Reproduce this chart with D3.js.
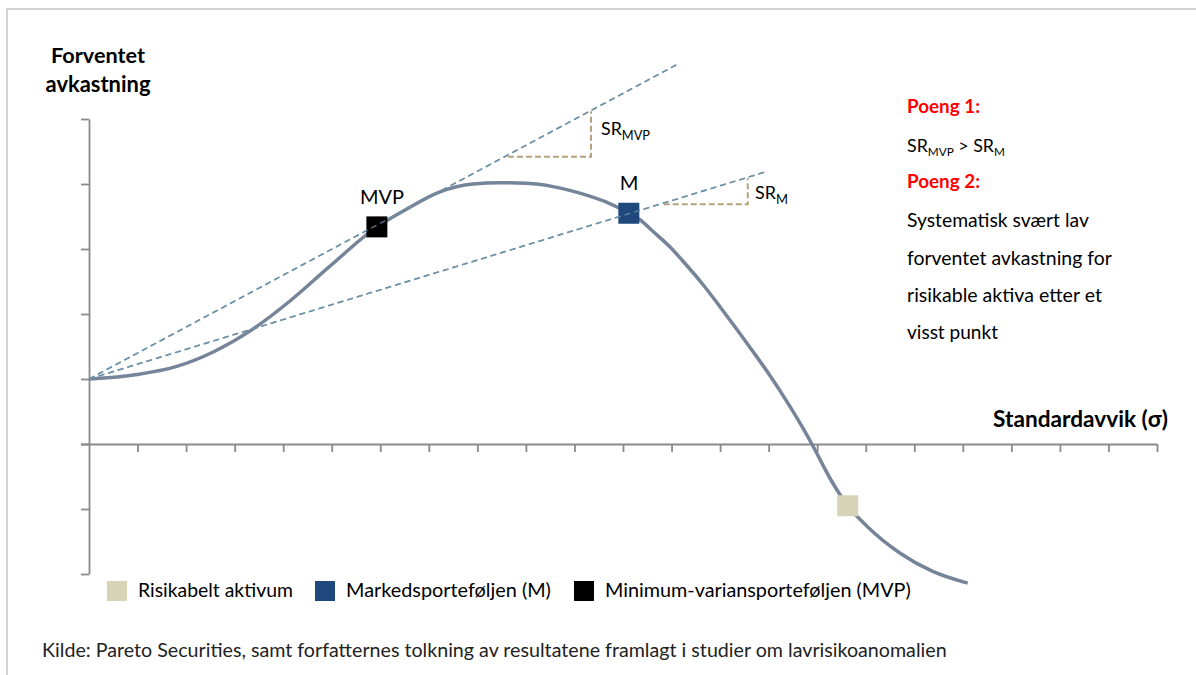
<!DOCTYPE html>
<html><head><meta charset="utf-8">
<script src="https://cdn.jsdelivr.net/npm/d3@7"></script>
<style>
html,body{margin:0;padding:0;background:#fff;}
svg{display:block;font-family:Lato,"Open Sans",sans-serif;}
</style></head>
<body>
<svg id="c" width="1196" height="675"></svg>
<script>
// ---------- data ----------
const curveX = [0, 1.0, 1.79, 2.57, 3.36, 4.14, 4.94, 5.93, 6.51, 7.23, 7.91, 8.47, 9.02, 9.56, 10.11, 10.66, 11.12, 11.35, 11.62, 11.97, 12.31, 12.65, 12.99, 13.34, 13.68, 14.03, 14.37, 14.71, 14.89, 15.32, 15.63, 16.02, 16.71, 17.38, 18.10];
const curveY = [1.0, 1.07, 1.19, 1.42, 1.76, 2.20, 2.72, 3.34, 3.60, 3.88, 4.00, 4.02, 4.01, 3.96, 3.86, 3.72, 3.55, 3.45, 3.27, 3.03, 2.75, 2.45, 2.12, 1.77, 1.42, 1.05, 0.66, 0.24, 0.0, -0.60, -0.95, -1.26, -1.68, -1.96, -2.14];

const markerNames = ["Risikabelt aktivum", "Markedsporteføljen (M)", "Minimum-variansporteføljen (MVP)"];
const markerX = [15.63, 11.12, 5.93];
const markerY = [-0.95, 3.55, 3.34];
const markerLabels = ["", "M", "MVP"];

const tangentX0 = [0, 0];
const tangentY0 = [1, 1];
const tangentX1 = [12.16, 13.95];
const tangentY1 = [5.857, 4.19];

// SR triangles: horizontal leg start x, corner x, base y, top y
const srStartX = [8.63, 11.84];
const srCornerX = [10.34, 13.57];
const srBaseY = [4.42, 3.69];
const srTopY = [5.12, 4.09];
const srSub = ["MVP", "M"];

const xTicks = d3.range(1, 23);
const yTicks = d3.range(-2, 6);

const markerColors = ["#d6d3b6", "#1f497d", "#000000"];

// ---------- scales ----------
const svg = d3.select("#c");
const x = d3.scaleLinear().domain([0, 22]).range([89, 1157]);
const y = d3.scaleLinear().domain([-2, 5]).range([574, 119]);

// frame
svg.append("rect").attr("x", 7).attr("y", 9).attr("width", 1230).attr("height", 700)
  .attr("fill", "none").attr("stroke", "#d4d4d4").attr("stroke-width", 2);

function fit(sel, w) {
  const fs = parseFloat(sel.attr("font-size"));
  const l = sel.node().getComputedTextLength();
  sel.attr("font-size", (fs * w / l).toFixed(2));
  return sel;
}

// axes
const axisColor = "#8a8a8a";
const yAxis = svg.append("g").attr("transform", `translate(${x(0)},0)`)
  .call(d3.axisLeft(y).tickValues(yTicks).tickSize(8).tickSizeOuter(0).tickFormat(""));
const xAxis = svg.append("g").attr("transform", `translate(0,${y(0)})`)
  .call(d3.axisBottom(x).tickValues(xTicks).tickSize(8).tickSizeOuter(0).tickFormat(""));
[xAxis, yAxis].forEach(a => {
  a.selectAll("path,line").attr("stroke", axisColor).attr("stroke-width", 1.8);
});
xAxis.select("path.domain").attr("d", `M${x(0)-8},0.5H${x(22)}`);

// tangent lines
function tangents(w, op) {
  tangentX0.forEach((d, i) => {
    svg.append("line")
      .attr("x1", x(tangentX0[i])).attr("y1", y(tangentY0[i]))
      .attr("x2", x(tangentX1[i])).attr("y2", y(tangentY1[i]))
      .attr("stroke", "#6e92a6").attr("stroke-width", w).attr("stroke-dasharray", "6,4").attr("opacity", op);
  });
}
tangents(1.6, 1);

// SR triangles
srStartX.forEach((d, i) => {
  svg.append("path")
    .attr("d", `M${x(srStartX[i])},${y(srBaseY[i])}H${x(srCornerX[i])}V${y(srTopY[i])}`)
    .attr("fill", "none").attr("stroke", "#b4a27c").attr("stroke-width", 2).attr("stroke-dasharray", "6,3");
});

// curve
const line = d3.line().x(d => x(d[0])).y(d => y(d[1])).curve(d3.curveMonotoneX);
svg.append("path").datum(curveX.map((v, i) => [v, curveY[i]]))
  .attr("d", line).attr("fill", "none").attr("stroke", "#76849a").attr("stroke-width", 3.5);

// markers
const ms = 21;
markerX.forEach((d, i) => {
  svg.append("rect")
    .attr("x", x(markerX[i]) - ms / 2).attr("y", y(markerY[i]) - ms / 2)
    .attr("width", ms).attr("height", ms).attr("fill", markerColors[i]);
});
tangents(1.4, 0.8);

// marker labels
const lblPos = [null, [629, 190, 18.7], [382, 204, 44]];
markerLabels.forEach((t, i) => {
  if (!t) return;
  const s = svg.append("text").attr("x", lblPos[i][0]).attr("y", lblPos[i][1])
    .attr("text-anchor", "middle").attr("font-size", 18).attr("fill", "#000").text(t);
  fit(s, lblPos[i][2]);
});

// SR labels
const srLbl = [[601, 135, 49], [755, 199, 33]];
srSub.forEach((s, i) => {
  const t = svg.append("text").attr("x", srLbl[i][0]).attr("y", srLbl[i][1]).attr("font-size", 16).attr("fill", "#000");
  t.append("tspan").text("SR");
  t.append("tspan").attr("dy", 5).attr("font-size", "0.72em").text(s);
  fit(t, srLbl[i][2]);
});

// axis titles
fit(svg.append("text").attr("x", 98).attr("y", 63).attr("text-anchor", "middle")
  .attr("font-size", 18).attr("font-weight", "bold").attr("fill", "#000").text("Forventet"), 94);
fit(svg.append("text").attr("x", 98).attr("y", 92).attr("text-anchor", "middle")
  .attr("font-size", 18).attr("font-weight", "bold").attr("fill", "#000").text("avkastning"), 105);
fit(svg.append("text").attr("x", 1168).attr("y", 427).attr("text-anchor", "end")
  .attr("font-size", 18).attr("font-weight", "bold").attr("fill", "#000").text("Standardavvik (σ)"), 175);

// right notes
const notes = [
  {t: "Poeng 1:", y: 113, w: 73, red: true},
  {sr: true, y: 151.5, w: 98},
  {t: "Poeng 2:", y: 188, w: 73, red: true},
  {t: "Systematisk svært lav", y: 226.5, w: 182},
  {t: "forventet avkastning for", y: 264.5, w: 205},
  {t: "risikable aktiva etter et", y: 301.5, w: 195},
  {t: "visst punkt", y: 338.5, w: 91}
];
notes.forEach(n => {
  const t = svg.append("text").attr("x", 907).attr("y", n.y).attr("font-size", 18)
    .attr("fill", n.red ? "#ff0000" : "#000").attr("font-weight", n.red ? "bold" : "normal");
  if (n.sr) {
    t.append("tspan").text("SR");
    t.append("tspan").attr("dy", 4).attr("font-size", "0.66em").text("MVP");
    t.append("tspan").attr("dy", -4).text(" > SR");
    t.append("tspan").attr("dy", 4).attr("font-size", "0.66em").text("M");
  } else t.text(n.t);
  fit(t, n.w);
});

// legend
const legX = [107, 315, 574];
const legW = [155, 205, 306];
markerNames.forEach((nm, i) => {
  svg.append("rect").attr("x", legX[i]).attr("y", 581).attr("width", 20).attr("height", 20).attr("fill", markerColors[i]);
  fit(svg.append("text").attr("x", legX[i] + 31).attr("y", 597).attr("font-size", 16).attr("fill", "#000").text(nm), legW[i]);
});

// source
fit(svg.append("text").attr("x", 42).attr("y", 657).attr("font-size", 16).attr("fill", "#222")
  .text("Kilde: Pareto Securities, samt forfatternes tolkning av resultatene framlagt i studier om lavrisikoanomalien"), 905);
</script>
</body></html>
